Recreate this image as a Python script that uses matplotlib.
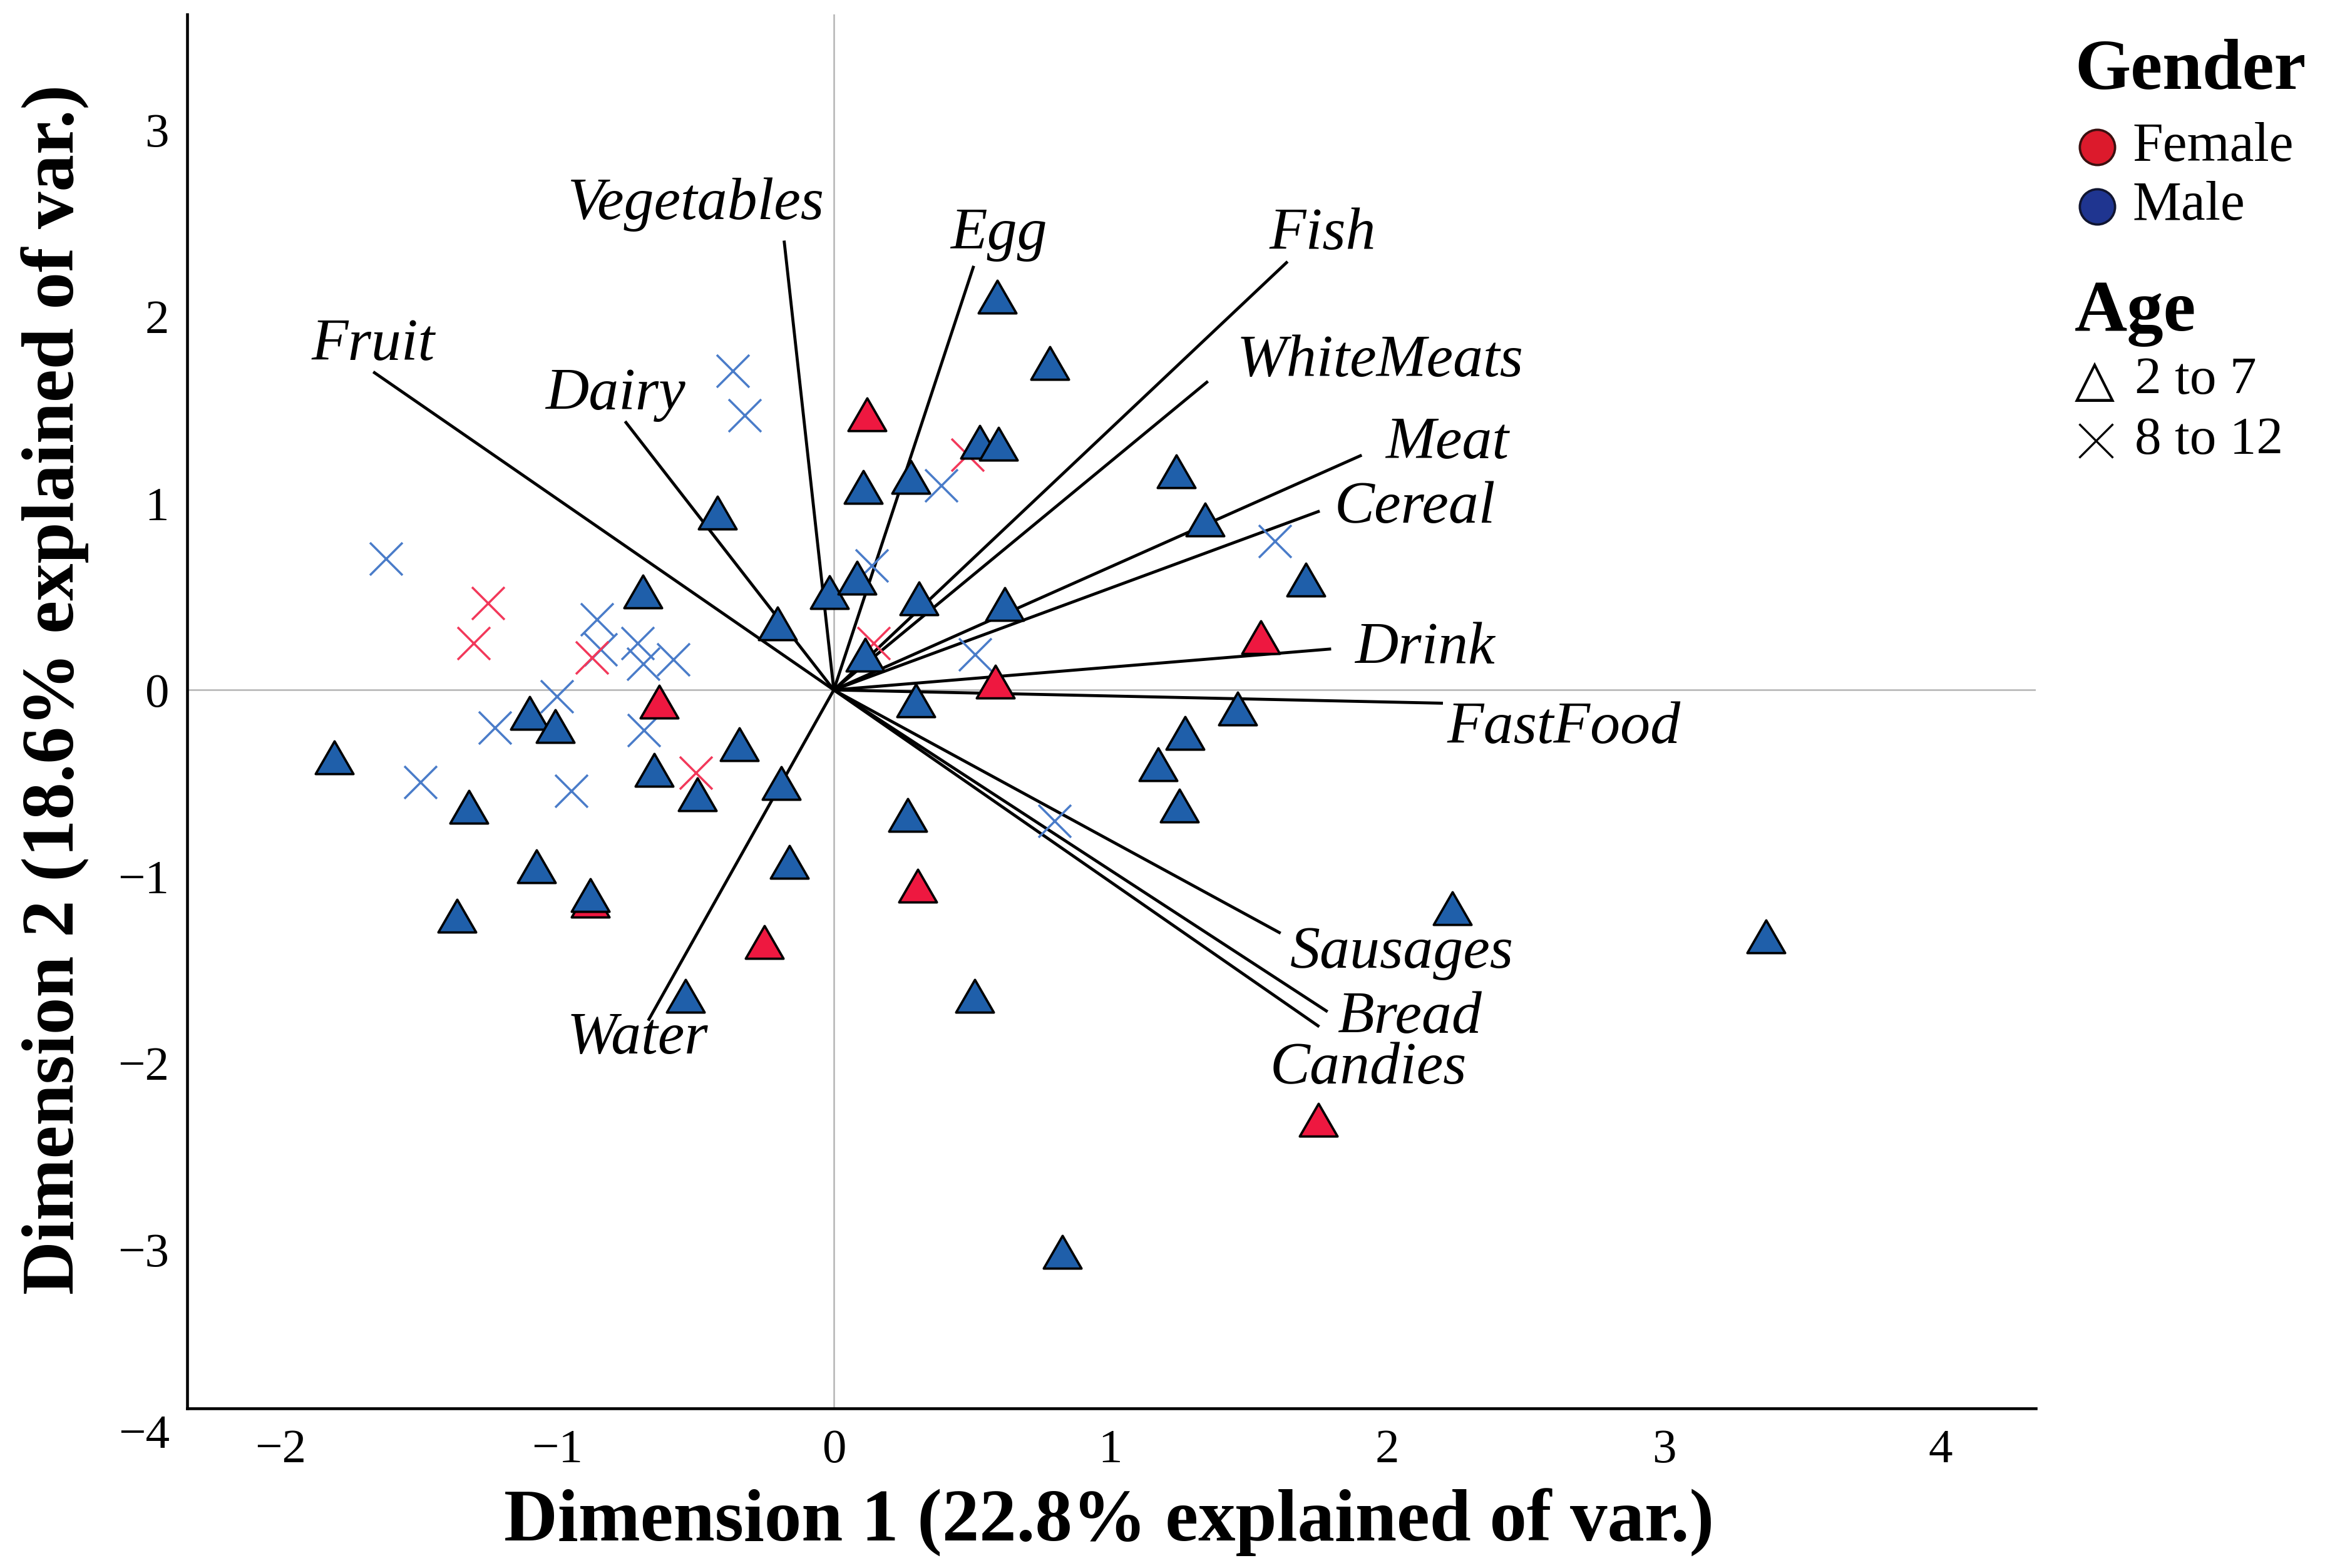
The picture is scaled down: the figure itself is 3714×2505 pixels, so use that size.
import numpy as np
import matplotlib
matplotlib.use("Agg")
import matplotlib.pyplot as plt
from matplotlib.path import Path

plt.rcParams['font.family'] = ['Liberation Serif', 'DejaVu Serif']
plt.rcParams['axes.unicode_minus'] = True

# individuals, split by gender and age group
male_young_x = [0.59, 0.78, 0.527, 0.596, 0.106, 0.278, 1.237, 1.342, 1.707, -0.421,
                -0.689, -0.015, 0.083, 0.308, 0.618, -0.204, 0.114, 0.296, -1.10, -1.007,
                -1.805, -0.649, -0.342, -0.493, -0.19, -1.319, 1.459, 1.269, 1.172, 1.249,
                0.267, -0.161, -1.075, -0.880, -1.362, -0.536, 0.509, 2.236, 3.368, 0.826]
male_young_y = [2.107, 1.752, 1.329, 1.318, 1.088, 1.14, 1.17, 0.912, 0.591, 0.95,
                0.526, 0.523, 0.602, 0.49, 0.46, 0.355, 0.19, -0.057, -0.124, -0.195,
                -0.36, -0.428, -0.29, -0.56, -0.50, -0.627, -0.10, -0.23, -0.40, -0.62,
                -0.67, -0.92, -0.946, -1.10, -1.21, -1.638, -1.64, -1.171, -1.32, -3.013]

female_young_x = [0.119, -0.631, 0.584, 1.543, 0.303, -0.251, 1.751, -0.880]
female_young_y = [1.478, -0.064, 0.044, 0.284, -1.05, -1.35, -2.305, -1.13]

male_old_x = [-0.364, -0.32, -1.617, 0.389, 0.138, 1.596, -0.856, -0.842, -0.708,
              -0.688, -0.578, -1.0, -1.224, -0.686, -1.493, -0.948, 0.512, 0.799]
male_old_y = [1.708, 1.47, 0.702, 1.094, 0.666, 0.797, 0.376, 0.215, 0.248,
              0.138, 0.162, -0.037, -0.205, -0.218, -0.497, -0.543, 0.19, -0.705]

female_old_x = [-1.249, -1.301, -0.873, -0.498, 0.485, 0.144]
female_old_y = [0.463, 0.248, 0.171, -0.446, 1.258, 0.249]

# food group loadings
foods = ['Fruit', 'Vegetables', 'Dairy', 'Egg', 'Fish', 'WhiteMeats', 'Meat',
         'Cereal', 'Drink', 'FastFood', 'Sausages', 'Bread', 'Candies', 'Water']
load_x = [-1.66, -0.179, -0.751, 0.504, 1.636, 1.348, 1.903, 1.751, 1.792, 2.196,
          1.61, 1.78, 1.75, -0.668]
load_y = [1.70, 2.40, 1.433, 2.265, 2.29, 1.649, 1.255, 0.956, 0.219, -0.071,
          -1.30, -1.72, -1.80, -1.765]
# where each food name sits
label_x = [-1.665, -0.497, -0.79, 0.596, 1.766, 1.974, 2.216, 2.10, 2.136, 2.638,
           2.054, 2.08, 1.933, -0.71]
label_y = [1.845, 2.60, 1.58, 2.44, 2.44, 1.76, 1.32, 0.976, 0.219, -0.205,
           -1.41, -1.76, -2.03, -1.87]

xticks = [-2, -1, 0, 1, 2, 3, 4]
yticks = [-3, -2, -1, 0, 1, 2, 3]

tri_blue = '#1F5FAA'
tri_red = '#EE1840'
x_blue = '#4A7CC9'
x_red = '#F2385A'

# equilateral triangle marker
tri = Path([(-1, -0.866), (1, -0.866), (0, 0.866), (-1, -0.866)],
           [Path.MOVETO, Path.LINETO, Path.LINETO, Path.CLOSEPOLY])

fig = plt.figure(figsize=(12.38, 8.35), dpi=300)
ax = fig.add_axes([0.0805, 0.1018, 0.7951, 0.889])

ax.axhline(0, color='#B4B4B4', lw=0.6, zorder=1)
ax.axvline(0, color='#B4B4B4', lw=0.6, zorder=1)

for lx, ly in zip(load_x, load_y):
    ax.plot([0, lx], [0, ly], color='black', lw=1.15, zorder=2)
for name, tx, ty in zip(foods, label_x, label_y):
    ax.text(tx, ty, name, style='italic', fontsize=23, ha='center', va='center', zorder=5)

ax.plot(male_old_x, male_old_y, 'x', color=x_blue, ms=12.5, mew=0.85, ls='none', zorder=3)
ax.plot(female_old_x, female_old_y, 'x', color=x_red, ms=12.5, mew=0.85, ls='none', zorder=3)
ax.plot(female_young_x, female_young_y, marker=tri, color=tri_red, mec='black',
        ms=14.5, mew=0.9, ls='none', zorder=4)
ax.plot(male_young_x, male_young_y, marker=tri, color=tri_blue, mec='black',
        ms=14.5, mew=0.9, ls='none', zorder=4)

ax.set_xlim(-2.337, 4.344)
ax.set_ylim(-3.85, 3.62)
ax.set_xticks(xticks)
ax.set_yticks(yticks)
ax.tick_params(length=0, labelsize=18.5)
ax.tick_params(axis='x', pad=8)
ax.tick_params(axis='y', pad=7)
# SPSS puts the -4 label just under the frame
ax.text(-0.0095, -4.0, '\u22124', transform=ax.get_yaxis_transform(), fontsize=18.5,
        ha='right', va='center', clip_on=False)

for side in ['top', 'right']:
    ax.spines[side].set_visible(False)
for side in ['left', 'bottom']:
    ax.spines[side].set_linewidth(1.1)

fig.text(0.4769, 0.0172, 'Dimension 1 (22.8% explained of var.)', fontsize=28.5,
         fontweight='bold', ha='center', va='baseline')
fig.text(0.0237, 0.5605, 'Dimension 2 (18.6% explained of var.)', fontsize=28.5,
         fontweight='bold', ha='center', va='center', rotation=90)

# legend built by hand
W, H = 3714.0, 2505.0
fig.text(3314 / W, 1 - 142 / H, 'Gender', fontsize=27.5, fontweight='bold', va='baseline')
fig.lines.append(plt.Line2D([3350 / W], [1 - 235 / H], marker='o', ms=13.5, color='#DC1A2C',
                            mec='#3A1010', mew=0.9, transform=fig.transFigure))
fig.lines.append(plt.Line2D([3350 / W], [1 - 330 / H], marker='o', ms=13.5, color='#1F3590',
                            mec='#101530', mew=0.9, transform=fig.transFigure))
fig.text(3406 / W, 1 - 235 / H, 'Female', fontsize=21, va='center')
fig.text(3406 / W, 1 - 330 / H, 'Male', fontsize=21, va='center')
fig.text(3314 / W, 1 - 528 / H, 'Age', fontsize=28, fontweight='bold', va='baseline')
fig.text(3314 / W, 1 - 608 / H, '\u25b3', fontsize=20, va='center',
         family=['DejaVu Sans'])
fig.lines.append(plt.Line2D([3348 / W], [1 - 704 / H], marker='x', ms=13, color='black',
                            mew=0.8, transform=fig.transFigure))
fig.text(3410 / W, 1 - 608 / H, '2 to 7', fontsize=20.5, va='center')
fig.text(3410 / W, 1 - 704 / H, '8 to 12', fontsize=20.5, va='center')

fig.savefig('out.png', dpi=300)
